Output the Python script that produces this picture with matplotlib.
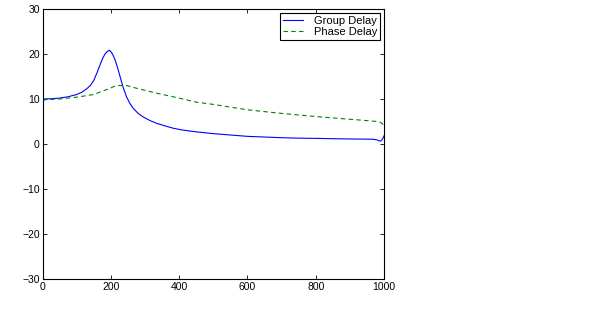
import matplotlib
matplotlib.use("Agg")
import matplotlib.pyplot as plt

gd_x = [0, 25, 50, 75, 100, 115, 130, 140, 150, 160, 168, 176, 183, 190, 197, 205, 212, 220, 227, 237,
        246, 256, 266, 280, 295, 315, 334, 360, 383, 410, 450, 500, 550, 600, 650, 700, 750, 800, 850,
        900, 950, 970, 980, 985, 990, 995, 1000]
gd_y = [10.0, 10.05, 10.2, 10.5, 11.0, 11.5, 12.3, 13.0, 14.1, 15.9, 17.5, 19.0, 20.0, 20.6, 20.8, 20.0,
        18.8, 16.9, 15.0, 12.4, 10.5, 9.0, 7.9, 6.8, 6.0, 5.2, 4.6, 4.0, 3.5, 3.1, 2.7, 2.3, 2.0, 1.7,
        1.55, 1.4, 1.3, 1.25, 1.18, 1.12, 1.08, 1.05, 0.9, 0.7, 0.65, 1.0, 1.8]

pd_x = [0, 50, 100, 150, 188, 217, 246, 280, 334, 400, 450, 500, 600, 700, 800, 900, 950,
        980, 990, 995, 1000]
pd_y = [9.8, 10.0, 10.4, 11.0, 12.1, 13.0, 13.0, 12.3, 11.3, 10.2, 9.3, 8.8, 7.6, 6.8,
        6.1, 5.5, 5.2, 5.0, 4.8, 4.5, 4.0]

x_ticks = [0, 200, 400, 600, 800, 1000]
y_ticks = [-30, -20, -10, 0, 10, 20, 30]

plt.rcParams['font.family'] = ['Liberation Sans', 'DejaVu Sans']
fig = plt.figure(figsize=(6.02, 3.24), dpi=100)
ax = fig.add_axes([42.5 / 602, 1 - 279 / 324, (384 - 42.5) / 602, (279 - 9) / 324])
ax.plot(gd_x, gd_y, color='#0000ff', lw=0.8, label='Group Delay')
ax.plot(pd_x, pd_y, color='#008000', lw=0.8, linestyle=(0, (4, 3)), label='Phase Delay')
ax.set_xlim(0, 1000)
ax.set_ylim(-30, 30)
ax.set_xticks(x_ticks)
ax.set_yticks(y_ticks)
ax.tick_params(direction='in', top=True, right=True, labelsize=7.5, length=3, width=0.6, pad=2)
for s in ax.spines.values():
    s.set_linewidth(0.8)
leg = ax.legend(loc='upper right', fontsize=8, frameon=True, fancybox=False, edgecolor='black',
                framealpha=1, borderpad=0.25, labelspacing=0.1, handlelength=1.8, handletextpad=1.0,
                borderaxespad=0.35)
leg.get_frame().set_linewidth(0.8)
fig.savefig('out.png', dpi=100)
